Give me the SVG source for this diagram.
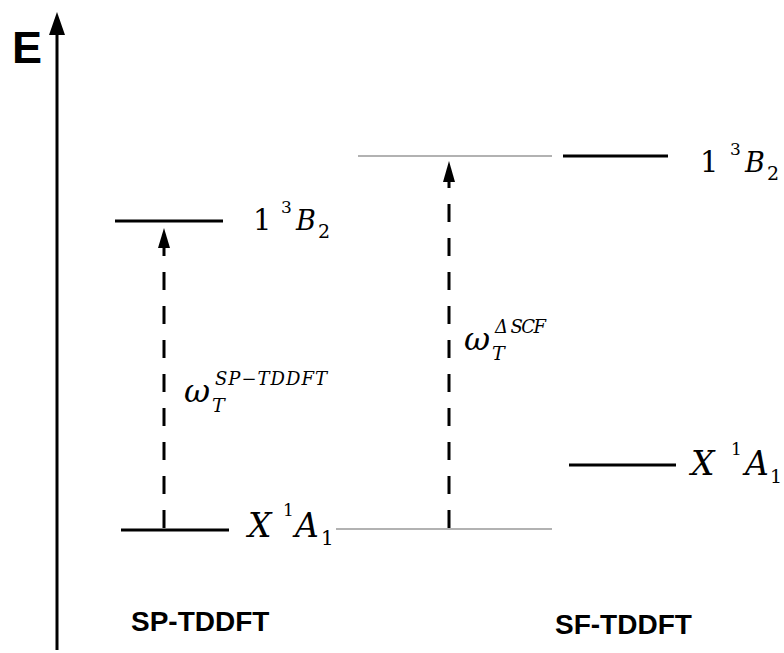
<svg xmlns="http://www.w3.org/2000/svg" width="784" height="653" viewBox="0 0 784 653">
<style>
.lvl{stroke:#000;stroke-width:3;fill:none}
.ref{stroke:#999;stroke-width:1.5;fill:none}
.dash{stroke:#000;stroke-width:3;stroke-dasharray:18 16;fill:none}
.lab{font-family:"DejaVu Serif","Liberation Serif",serif;fill:#000}
.it{font-style:italic}
.meth{font-family:"Liberation Sans",Arial,sans-serif;font-weight:bold;font-size:28px;fill:#000}
</style>
<g id="axis">
<line x1="57" y1="650" x2="57" y2="32" stroke="#000" stroke-width="3"/>
<path d="M49,35 L57,12 L65,35 Z" fill="#000"/>
<text x="12" y="63" font-family="Liberation Sans,Arial,sans-serif" font-weight="bold" font-size="45">E</text>
</g>
<g id="connectors">
<line class="dash" x1="164" y1="528" x2="164" y2="248"/>
<path d="M158,248 L164,228 L170,248 Z" fill="#000"/>
<line class="dash" x1="449" y1="528" x2="449" y2="182"/>
<path d="M443,182 L449,161 L455,182 Z" fill="#000"/>
</g>
<g id="sp-B2">
<line class="lvl" x1="115" y1="221" x2="223" y2="221"/>
<text class="lab" x="253" y="230" font-size="29">1</text>
<text class="lab" x="281" y="213" font-size="17">3</text>
<text class="lab it" x="296" y="230" font-size="27">B</text>
<text class="lab" x="318" y="238" font-size="19">2</text>
</g>
<g id="sp-A1">
<line class="lvl" x1="121" y1="530" x2="229" y2="530"/>
<text class="lab it" x="248" y="537" font-size="33">X</text>
<text class="lab" x="283" y="516" font-size="17">1</text>
<text class="lab it" x="295" y="537" font-size="33">A</text>
<text class="lab" x="321" y="545" font-size="20">1</text>
</g>
<g id="ref-A1">
<line class="ref" x1="336" y1="529" x2="552" y2="529"/>
</g>
<g id="ref-B2">
<line class="ref" x1="358" y1="156" x2="552" y2="156"/>
</g>
<g id="sf-B2">
<line class="lvl" x1="563" y1="156" x2="668" y2="156"/>
<text class="lab" x="700" y="172" font-size="29">1</text>
<text class="lab" x="730" y="155" font-size="17">3</text>
<text class="lab it" x="745" y="172" font-size="27">B</text>
<text class="lab" x="767" y="180" font-size="19">2</text>
</g>
<g id="sf-A1">
<line class="lvl" x1="569" y1="465" x2="676" y2="465"/>
<text class="lab it" x="691" y="475" font-size="33">X</text>
<text class="lab" x="731" y="455" font-size="17">1</text>
<text class="lab it" x="745" y="475" font-size="33">A</text>
<text class="lab" x="770" y="483" font-size="19">1</text>
</g>
<g id="label-sp">
<text class="lab it" x="184" y="402" font-size="32">ω</text>
<text class="lab it" x="212" y="412" font-size="19">T</text>
<text class="lab it" x="215" y="385" font-size="18" textLength="112">SP−TDDFT</text>
</g>
<g id="label-scf">
<text class="lab it" x="464" y="350" font-size="32">ω</text>
<text class="lab it" x="492" y="360" font-size="19">T</text>
<text class="lab it" x="495" y="333" font-size="18" textLength="51">Δ SCF</text>
</g>
<g id="methods">
<text class="meth" x="131" y="631">SP-TDDFT</text>
<text class="meth" x="555" y="634">SF-TDDFT</text>
</g>
</svg>
